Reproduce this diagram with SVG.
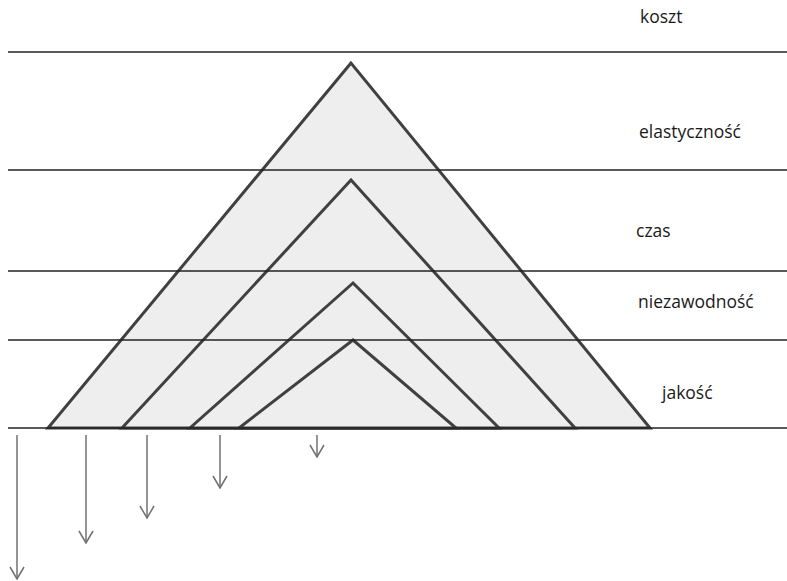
<svg xmlns="http://www.w3.org/2000/svg" width="787" height="581" viewBox="0 0 787 581">
<defs>
<style>
.tri{fill:#eeeeee;stroke:#404040;stroke-width:3;stroke-linejoin:miter}
.hl{stroke:#222;stroke-width:1.3}
.lbl{font-family:"Open Sans","Liberation Sans",sans-serif;font-size:17.5px;fill:#1a1a1a}
.arr{stroke:#707070;stroke-width:1.5;fill:none}
</style>
<marker id="vh" viewBox="0 0 14 16" refX="13" refY="8" markerWidth="14" markerHeight="16" markerUnits="userSpaceOnUse" orient="auto">
<path d="M1,1 L13,8 L1,15" fill="none" stroke="#707070" stroke-width="1.5"/>
</marker>
</defs>
<rect width="787" height="581" fill="#fff"/>
<g id="t1"><polygon class="tri" points="351,63 48,428 650,428"/></g>
<g id="t2"><polygon class="tri" points="351,180 122,428 575,428"/></g>
<g id="t3"><polygon class="tri" points="353,283 190,428 499,428"/></g>
<g id="t4"><polygon class="tri" points="353,340 239,428 456,428"/></g>
<g id="lines">
<line class="hl" x1="8" y1="52" x2="787" y2="52"/>
<line class="hl" x1="8" y1="170" x2="787" y2="170"/>
<line class="hl" x1="8" y1="271" x2="787" y2="271"/>
<line class="hl" x1="8" y1="340" x2="787" y2="340"/>
<line class="hl" x1="8" y1="428" x2="787" y2="428"/>
</g>
<g id="connectors">
<path class="arr" d="M17,435 V579" marker-end="url(#vh)"/>
<path class="arr" d="M86,435 V543" marker-end="url(#vh)"/>
<path class="arr" d="M147,435 V518" marker-end="url(#vh)"/>
<path class="arr" d="M220,435 V488" marker-end="url(#vh)"/>
<path class="arr" d="M317,435 V457" marker-end="url(#vh)"/>
</g>
<g id="labels">
<text class="lbl" x="640" y="23">koszt</text>
<text class="lbl" x="639" y="138">elastyczność</text>
<text class="lbl" x="636" y="237">czas</text>
<text class="lbl" x="638" y="308">niezawodność</text>
<text class="lbl" x="662" y="399">jakość</text>
</g>
</svg>
